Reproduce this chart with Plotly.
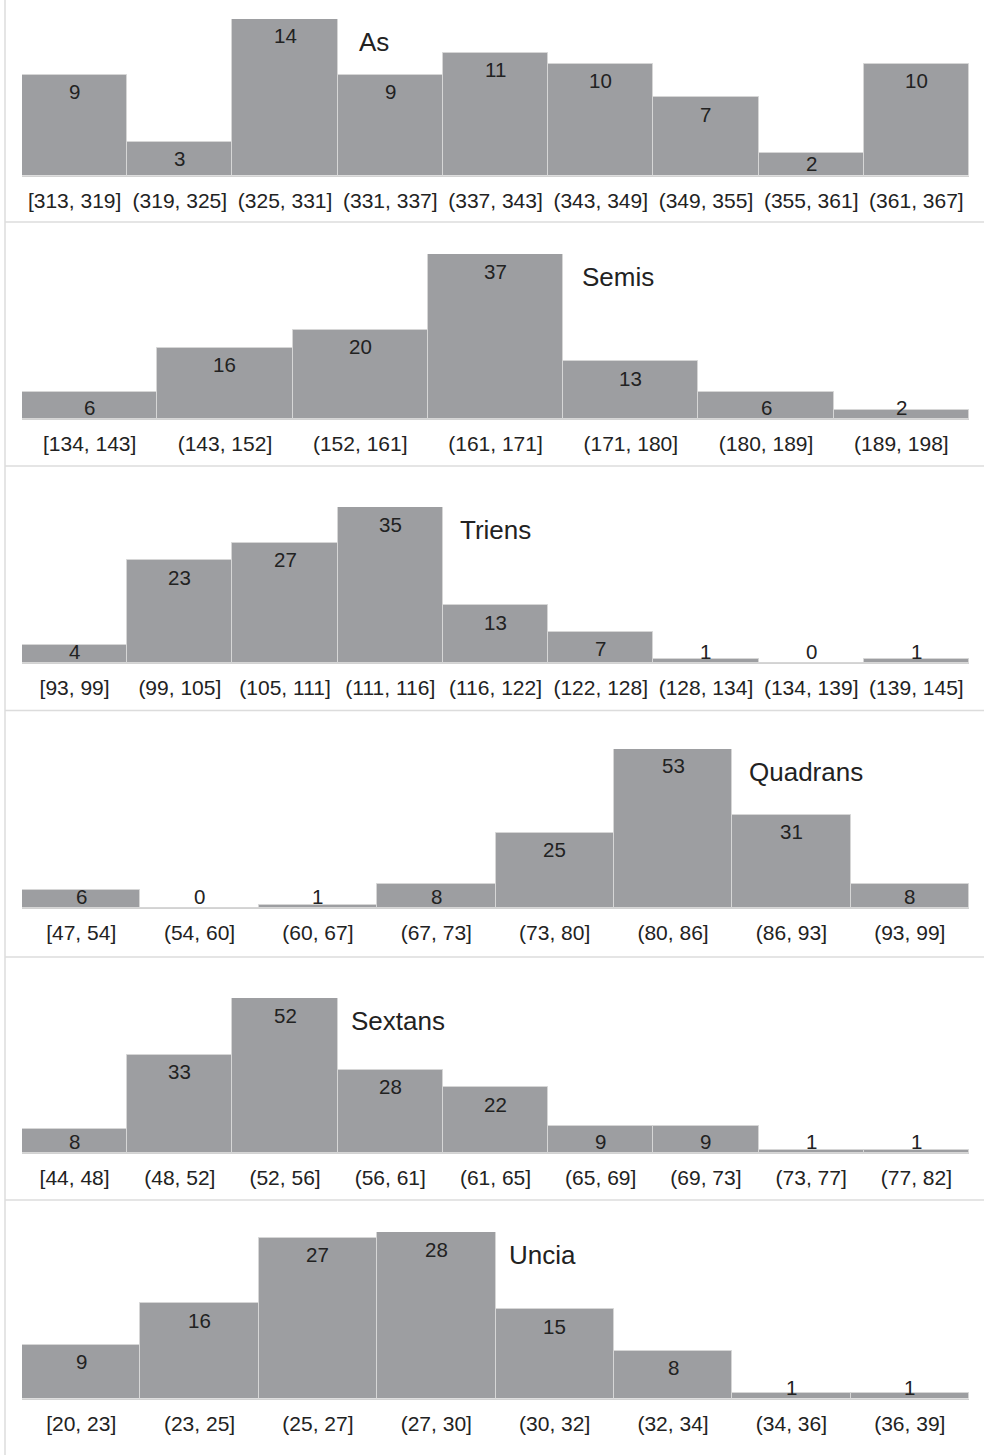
import plotly.graph_objects as go

# Weight distributions (counts per weight bin) for six coin denominations
as_bins = ["[313, 319]", "(319, 325]", "(325, 331]", "(331, 337]", "(337, 343]",
           "(343, 349]", "(349, 355]", "(355, 361]", "(361, 367]"]
as_counts = [9, 3, 14, 9, 11, 10, 7, 2, 10]

semis_bins = ["[134, 143]", "(143, 152]", "(152, 161]", "(161, 171]", "(171, 180]",
              "(180, 189]", "(189, 198]"]
semis_counts = [6, 16, 20, 37, 13, 6, 2]

triens_bins = ["[93, 99]", "(99, 105]", "(105, 111]", "(111, 116]", "(116, 122]",
               "(122, 128]", "(128, 134]", "(134, 139]", "(139, 145]"]
triens_counts = [4, 23, 27, 35, 13, 7, 1, 0, 1]

quadrans_bins = ["[47, 54]", "(54, 60]", "(60, 67]", "(67, 73]", "(73, 80]",
                 "(80, 86]", "(86, 93]", "(93, 99]"]
quadrans_counts = [6, 0, 1, 8, 25, 53, 31, 8]

sextans_bins = ["[44, 48]", "(48, 52]", "(52, 56]", "(56, 61]", "(61, 65]",
                "(65, 69]", "(69, 73]", "(73, 77]", "(77, 82]"]
sextans_counts = [8, 33, 52, 28, 22, 9, 9, 1, 1]

uncia_bins = ["[20, 23]", "(23, 25]", "(25, 27]", "(27, 30]", "(30, 32]",
              "(32, 34]", "(34, 36]", "(36, 39]"]
uncia_counts = [9, 16, 27, 28, 15, 8, 1, 1]

names = ["As", "Semis", "Triens", "Quadrans", "Sextans", "Uncia"]
bins = [as_bins, semis_bins, triens_bins, quadrans_bins, sextans_bins, uncia_bins]
counts = [as_counts, semis_counts, triens_counts, quadrans_counts, sextans_counts, uncia_counts]

# Page geometry (pixels)
W, H = 984, 1455
X0, X1 = 22, 969
panel_px = [(19, 175.5), (254, 419), (507, 663), (749, 908), (998, 1153), (1232, 1398.5)]
name_gap = [19, 17, 15, 15, 11, 11]
separators = [222, 466, 710.5, 957, 1200]

FONT = "Liberation Sans, Arial, Helvetica, sans-serif"
TEXT = "#222222"
BAR = "#9d9ea1"
EDGE = "#d6d6d6"
RULE = "#dcdcdc"

fig = go.Figure()
annotations = []

for i, (name, cats, vals, (top, base)) in enumerate(zip(names, bins, counts, panel_px)):
    k = "" if i == 0 else str(i + 1)
    xa, ya = "x" + k, "y" + k
    n = len(cats)
    vmax = max(vals)
    fig.add_trace(go.Bar(
        x=cats, y=vals, xaxis=xa, yaxis=ya, width=1,
        marker=dict(color=BAR, line=dict(color=EDGE, width=1)),
        showlegend=False, hoverinfo="x+y",
    ))
    fig.layout["xaxis" + k] = dict(
        domain=[X0 / W, X1 / W], range=[-0.5, n - 0.5], anchor=ya,
        type="category", showgrid=False, zeroline=False,
        showline=True, linecolor="#d2d2d2", linewidth=1,
        ticks="", ticklabelstandoff=6,
        tickfont=dict(family=FONT, size=21, color=TEXT),
        fixedrange=True,
    )
    fig.layout["yaxis" + k] = dict(
        domain=[1 - base / H, 1 - top / H], range=[0, vmax], anchor=xa,
        visible=False, showgrid=False, zeroline=False, fixedrange=True,
    )
    plot_h = base - top
    for c, v in zip(cats, vals):
        h = v / vmax * plot_h
        if h - 17 >= 11.5:
            y, shift = v, -17
        else:
            y, shift = 0, 11.5
        annotations.append(dict(
            x=c, y=y, xref=xa, yref=ya, yshift=shift, text=str(v),
            showarrow=False, xanchor="center", yanchor="middle",
            font=dict(family=FONT, size=20.5, color=TEXT),
        ))
    # Denomination name beside the tallest bar
    imax = vals.index(vmax)
    annotations.append(dict(
        x=imax + 0.5, y=vmax, xref=xa, yref=ya, xshift=name_gap[i], yshift=-23,
        text=name, showarrow=False, xanchor="left", yanchor="middle",
        font=dict(family=FONT, size=26, color=TEXT),
    ))

shapes = [dict(type="line", xref="paper", yref="paper",
               x0=5 / W, x1=1, y0=1 - s / H, y1=1 - s / H,
               line=dict(color=RULE, width=1.5)) for s in separators]
shapes.append(dict(type="line", xref="paper", yref="paper",
                   x0=5 / W, x1=5 / W, y0=0, y1=1,
                   line=dict(color=RULE, width=1.5)))

fig.update_layout(
    width=W, height=H, margin=dict(l=0, r=0, t=0, b=0),
    paper_bgcolor="white", plot_bgcolor="white",
    bargap=0, annotations=annotations, shapes=shapes,
    font=dict(family=FONT, color=TEXT),
)

fig.write_html("out.html")
